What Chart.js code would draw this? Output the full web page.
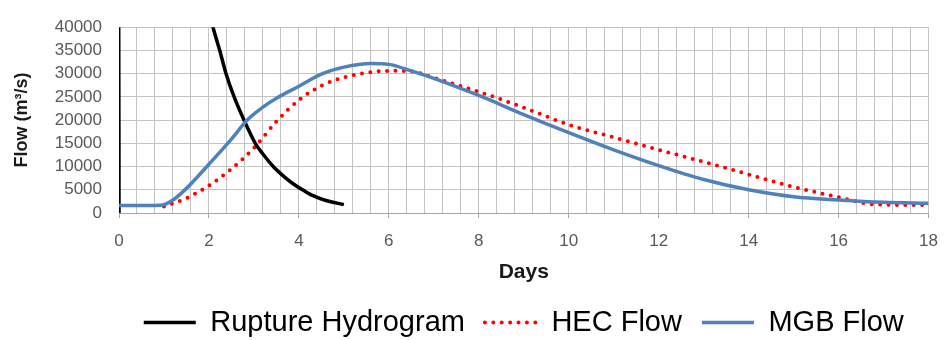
<!DOCTYPE html>
<html>
<head>
<meta charset="utf-8">
<script src="https://cdn.jsdelivr.net/npm/chart.js@4/dist/chart.umd.min.js"></script>
<style>
  body { margin: 0; background: #fff; }
</style>
</head>
<body>
<canvas id="flowChart" width="951" height="340"></canvas>
<script>
// days / flow (m3/s)
const rupDays = [0, 0, 1, 2, 2.09, 2.24, 2.38, 2.56, 2.78, 3.03, 3.2, 3.43, 3.65, 3.87, 4.1, 4.3, 4.6, 5];
const rupFlow = [0, 380000, 130000, 44000, 40000, 35000, 30000, 25000, 20000, 15000, 12700, 10000, 8000, 6300, 4900, 3800, 2700, 1800];

const hecDays = [1, 1.5, 2, 2.5, 3, 3.5, 4, 4.5, 5, 5.5, 6, 6.5, 7, 8, 9, 10, 11, 12, 13, 14, 15, 16, 16.65, 17, 18];
const hecFlow = [1400, 3200, 5900, 9500, 14000, 19700, 24300, 27400, 29200, 30200, 30600, 30500, 29100, 26100, 22700, 19000, 16300, 13600, 11000, 8300, 5600, 3400, 2000, 1800, 1700];

const mgbDays = [0, 0.5, 0.93, 1.2, 1.5, 2, 2.5, 2.85, 3.2, 3.5, 4, 4.5, 5, 5.6, 6, 6.5, 7, 8, 9, 10, 11, 12, 13, 14, 15, 16, 17, 18];
const mgbFlow = [1600, 1600, 1650, 2800, 5300, 10500, 15900, 20000, 22800, 24700, 27300, 29900, 31400, 32200, 32000, 30600, 29000, 25300, 21200, 17300, 13600, 10200, 7200, 5000, 3500, 2800, 2300, 2100];

const seriesNames = ["Rupture Hydrogram", "HEC Flow", "MGB Flow"];
const xTicksMajor = 2;

function pts(xs, ys) {
	return xs.map((x, i) => ({ x: x, y: ys[i] }));
}
function isMajor(v) {
	return Math.abs(v / xTicksMajor - Math.round(v / xTicksMajor)) < 1e-6;
}

const gridGrey = "#c3c3c3";
const fontFam = "'Liberation Sans', Arial, sans-serif";

new Chart(document.getElementById("flowChart"), {
	type: "line",
	data: {
		datasets: [
			{
				label: seriesNames[0],
				data: pts(rupDays, rupFlow),
				borderColor: "#000000",
				backgroundColor: "#000000",
				borderWidth: 3.5,
				tension: 0.3,
				pointRadius: 0,
				order: 1
			},
			{
				label: seriesNames[1],
				data: pts(hecDays, hecFlow),
				borderColor: "#ff0000",
				backgroundColor: "#ff0000",
				borderWidth: 4,
				borderDash: [0, 8.4],
				borderCapStyle: "round",
				cubicInterpolationMode: "monotone",
				pointRadius: 0,
				order: 2
			},
			{
				label: seriesNames[2],
				data: pts(mgbDays, mgbFlow),
				borderColor: "#4f81bd",
				backgroundColor: "#4f81bd",
				borderWidth: 3.5,
				cubicInterpolationMode: "monotone",
				pointRadius: 0,
				order: 0
			}
		]
	},
	options: {
		responsive: false,
		animation: false,
		layout: { padding: { top: 24, right: 13, left: 0, bottom: -7 } },
		plugins: {
			tooltip: { enabled: false },
			legend: {
				position: "bottom",
				fullSize: false,
				labels: {
					usePointStyle: true,
					pointStyle: "line",
					pointStyleWidth: 52,
					padding: 20,
					color: "#000000",
					font: { family: fontFam, size: 29 },
					sort: (a, b) => a.datasetIndex - b.datasetIndex,
					generateLabels: (chart) => {
						const items = Chart.defaults.plugins.legend.labels.generateLabels(chart);
						items.forEach((item) => {
							const ds = chart.data.datasets[item.datasetIndex];
							item.lineDash = ds.borderDash || [];
							item.lineCap = ds.borderCapStyle || "butt";
							item.lineWidth = ds.borderWidth;
						});
						return items;
					}
				}
			}
		},
		scales: {
			x: {
				type: "linear",
				min: 0,
				max: 18,
				afterFit: (scale) => { scale.height = 75; },
				ticks: {
					stepSize: 0.4,
					autoSkip: false,
					maxRotation: 0,
					padding: 13,
					color: "#595959",
					font: { family: fontFam, size: 17 },
					callback: (v) => (isMajor(v) ? String(Math.round(v)) : "")
				},
				grid: {
					color: gridGrey,
					lineWidth: 1,
					tickLength: 5,
					tickColor: (ctx) => (ctx.tick && isMajor(ctx.tick.value) ? "#a6a6a6" : "rgba(0,0,0,0)")
				},
				border: { color: "#a6a6a6" },
				title: {
					display: true,
					text: "Days",
					color: "#1a1a1a",
					padding: { top: 4, bottom: 3 },
					font: { family: fontFam, size: 21, weight: "bold" }
				}
			},
			y: {
				min: 0,
				max: 40000,
				afterFit: (scale) => { scale.width = 119; },
				ticks: {
					stepSize: 5000,
					autoSkip: false,
					padding: 17,
					color: "#595959",
					font: { family: fontFam, size: 17 },
					callback: (v) => String(v)
				},
				grid: { color: gridGrey, lineWidth: 1, drawTicks: false },
				border: { color: "#a6a6a6" },
				title: {
					display: true,
					text: "Flow (m³/s)",
					color: "#1a1a1a",
					padding: { top: 11, bottom: 4 },
					font: { family: fontFam, size: 18, weight: "bold" }
				}
			}
		}
	}
});
</script>
</body>
</html>
